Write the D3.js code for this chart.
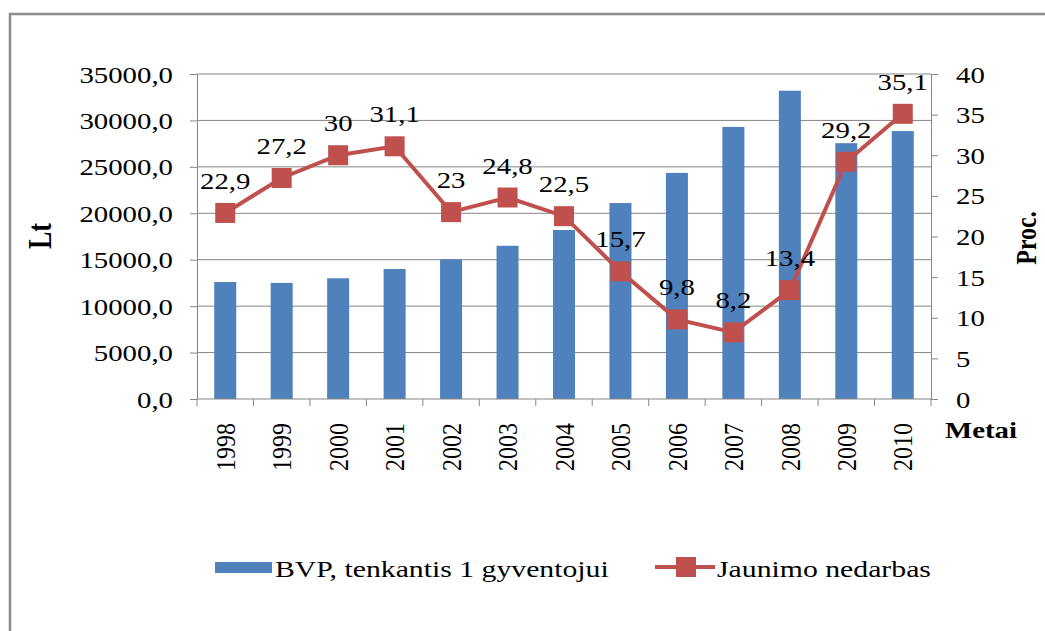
<!DOCTYPE html>
<html>
<head>
<meta charset="utf-8">
<script src="https://cdnjs.cloudflare.com/ajax/libs/d3/7.8.5/d3.min.js"></script>
<style>
  body { margin: 0; background: #fff; }
  svg { display: block; }
  text { font-family: "Liberation Serif", "Times New Roman", serif; fill: #000; }
</style>
</head>
<body>
<svg id="chart" width="1045" height="631"></svg>
<script>
const BAR_COLOR = '#4F81BD';
const LINE_COLOR = '#C0504D';
const GRID_COLOR = '#868686';
const STRETCH = 1.2;

// data
var years = ['1998', '1999', '2000', '2001', '2002', '2003', '2004', '2005', '2006', '2007', '2008', '2009', '2010'];
var bvp = [12600, 12500, 13000, 14000, 15050, 16500, 18200, 21100, 24350, 29300, 33200, 27550, 28850];
var nedarbas = [22.9, 27.2, 30, 31.1, 23, 24.8, 22.5, 15.7, 9.8, 8.2, 13.4, 29.2, 35.1];
var ltTicks = [0, 5000, 10000, 15000, 20000, 25000, 30000, 35000];
var procTicks = [0, 5, 10, 15, 20, 25, 30, 35, 40];
var seriesNames = ['BVP, tenkantis 1 gyventojui', 'Jaunimo nedarbas'];

(function() {
    var svg = d3.select('#chart');

    var left = 197, right = 931, top = 74, bottom = 399;

    var x = d3.scaleBand().domain(years).range([left, right]);
    var yL = d3.scaleLinear().domain([0, 35000]).range([bottom, top]);
    var yR = d3.scaleLinear().domain([0, 40]).range([bottom, top]);
    var comma = function(v) { return String(v).replace('.', ','); };

    // outer frame
    svg.append('rect')
    .attr('x', 10).attr('y', 14)
    .attr('width', 1050).attr('height', 640)
    .style('fill', 'none')
    .style('stroke', '#8c8c8c')
    .style('stroke-width', 2.5);

    // grid
    svg.append('g').selectAll('line')
    .data(ltTicks.slice(1))
    .join('line')
    .attr('x1', left).attr('x2', right)
    .attr('y1', d => yL(d)).attr('y2', d => yL(d))
    .style('stroke', GRID_COLOR)
    .style('stroke-width', 1);

    // left axis
    var axL = svg.append('g')
    .attr('transform', 'translate(' + left + ',0)')
    .call(d3.axisLeft(yL).tickValues(ltTicks).tickSize(7).tickSizeOuter(0)
        .tickFormat(d => d3.format('.1f')(d).replace('.', ',')));
    axL.selectAll('text')
    .attr('x', 0).attr('dy', null)
    .attr('transform', 'translate(-24,8) scale(' + STRETCH + ',1)')
    .style('font-size', '24px');

    // right axis
    var axR = svg.append('g')
    .attr('transform', 'translate(' + right + ',0)')
    .call(d3.axisRight(yR).tickValues(procTicks).tickSize(7).tickSizeOuter(0));
    axR.selectAll('text')
    .attr('x', 0).attr('dy', null)
    .attr('transform', 'translate(25,8) scale(' + STRETCH + ',1)')
    .style('font-size', '24px');

    [axL, axR].forEach(function(ax) {
        ax.selectAll('line').style('stroke', GRID_COLOR);
        ax.select('.domain').style('stroke', GRID_COLOR);
        ax.attr('font-family', null).attr('font-size', null);
    });

    // bars
    var barW = x.bandwidth() * 0.39;
    svg.append('g').selectAll('rect')
    .data(years)
    .join('rect')
    .attr('x', (d, i) => x(d) + (x.bandwidth() - barW) / 2)
    .attr('y', (d, i) => yL(bvp[i]))
    .attr('width', barW)
    .attr('height', (d, i) => yL(0) - yL(bvp[i]))
    .style('fill', BAR_COLOR);

    // category axis
    var bounds = years.map(d => x(d)).concat([x.range()[1]]);
    svg.append('line')
    .attr('x1', left).attr('x2', right)
    .attr('y1', bottom).attr('y2', bottom)
    .style('stroke', GRID_COLOR);
    svg.append('g').selectAll('line')
    .data(bounds)
    .join('line')
    .attr('x1', d => d).attr('x2', d => d)
    .attr('y1', bottom).attr('y2', bottom + 7)
    .style('stroke', GRID_COLOR);
    svg.append('g').selectAll('text')
    .data(years)
    .join('text')
    .attr('transform', d => 'translate(' + (x(d) + x.bandwidth() / 2) + ',423) rotate(-90) scale(1,1.15)')
    .attr('dy', '0.35em')
    .attr('text-anchor', 'end')
    .style('font-size', '24px')
    .text(d => d);

    // line + markers
    var cx = function(i) { return x(years[i]) + x.bandwidth() / 2; };
    var line = d3.line()
    .x((d, i) => cx(i))
    .y(d => yR(d));
    svg.append('path')
    .datum(nedarbas)
    .attr('d', line)
    .style('fill', 'none')
    .style('stroke', LINE_COLOR)
    .style('stroke-width', 4);
    svg.append('g').selectAll('rect')
    .data(nedarbas)
    .join('rect')
    .attr('x', (d, i) => cx(i) - 10)
    .attr('y', d => yR(d) - 10)
    .attr('width', 20).attr('height', 20)
    .style('fill', LINE_COLOR);

    // data labels
    svg.append('g').selectAll('text')
    .data(nedarbas)
    .join('text')
    .attr('transform', (d, i) => 'translate(' + cx(i) + ',' + (yR(d) - 24) + ') scale(' + STRETCH + ',1)')
    .attr('text-anchor', 'middle')
    .style('font-size', '24px')
    .text(d => comma(d));

    // axis titles
    svg.append('text')
    .attr('transform', 'translate(39,236) rotate(-90) scale(1,1.3)')
    .attr('text-anchor', 'middle').attr('dy', '0.35em')
    .style('font-size', '26px').style('font-weight', 'bold')
    .text('Lt');
    svg.append('text')
    .attr('transform', 'translate(1026,238) rotate(-90) scale(1,1.2)')
    .attr('text-anchor', 'middle').attr('dy', '0.35em')
    .style('font-size', '24px').style('font-weight', 'bold')
    .text('Proc.');
    svg.append('text')
    .attr('transform', 'translate(981,438) scale(' + STRETCH + ',1)')
    .attr('text-anchor', 'middle')
    .style('font-size', '24px').style('font-weight', 'bold')
    .text('Metai');

    // legend
    svg.append('rect')
    .attr('x', 215).attr('y', 562)
    .attr('width', 57).attr('height', 11)
    .style('fill', BAR_COLOR);
    svg.append('text')
    .attr('transform', 'translate(275,577) scale(1.24,1)')
    .style('font-size', '24px')
    .text(seriesNames[0]);
    svg.append('line')
    .attr('x1', 655).attr('x2', 715)
    .attr('y1', 567).attr('y2', 567)
    .style('stroke', LINE_COLOR)
    .style('stroke-width', 4);
    svg.append('rect')
    .attr('x', 676).attr('y', 557)
    .attr('width', 20).attr('height', 20)
    .style('fill', LINE_COLOR);
    svg.append('text')
    .attr('transform', 'translate(717,577) scale(1.24,1)')
    .style('font-size', '24px')
    .text(seriesNames[1]);
})();
</script>
</body>
</html>
